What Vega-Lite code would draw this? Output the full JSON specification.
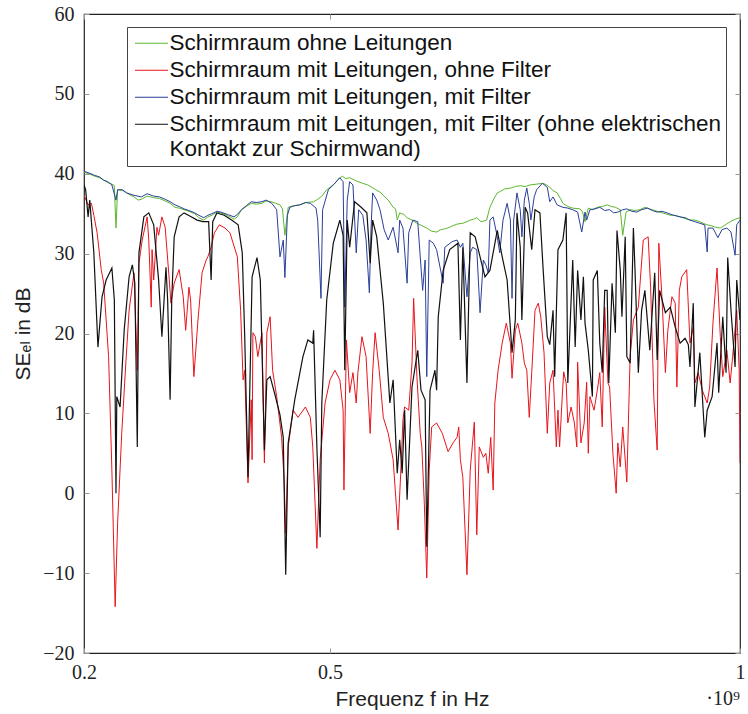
{
  "$schema": "https://vega.github.io/schema/vega-lite/v6.json",
  "autosize": {"type": "none"},
  "width": 656,
  "height": 639,
  "padding": {"left": 84, "top": 14, "right": 8, "bottom": 61},
  "background": "white",
  "config": {
    "view": {"stroke": "#222", "strokeWidth": 1.2},
    "axis": {"grid": false, "domain": false, "labelFont": "Liberation Serif", "labelFontSize": 20, "labelColor": "#222", "titleFont": "Liberation Sans, DejaVu Sans", "titleFontSize": 21, "titleFontWeight": "normal", "titleColor": "#222", "tickColor": "#999", "tickSize": -5, "tickWidth": 1}
  },
  "datasets": {
    "green": [
      {"f":0.200,"v":40.2},{"f":0.206,"v":40.0},{"f":0.213,"v":39.7},{"f":0.219,"v":39.5},{"f":0.224,"v":39.2},{"f":0.229,"v":38.9},{"f":0.234,"v":38.7},{"f":0.237,"v":38.5},{"f":0.239,"v":33.2},{"f":0.241,"v":38.0},{"f":0.247,"v":37.9},{"f":0.252,"v":37.6},{"f":0.257,"v":37.3},{"f":0.261,"v":37.1},{"f":0.266,"v":36.7},{"f":0.270,"v":36.8},{"f":0.277,"v":37.2},{"f":0.285,"v":37.0},{"f":0.292,"v":36.9},{"f":0.299,"v":36.6},{"f":0.305,"v":36.3},{"f":0.311,"v":35.8},{"f":0.316,"v":35.7},{"f":0.322,"v":35.5},{"f":0.328,"v":35.3},{"f":0.335,"v":35.0},{"f":0.340,"v":34.5},{"f":0.346,"v":34.2},{"f":0.351,"v":34.6},{"f":0.356,"v":34.8},{"f":0.362,"v":35.2},{"f":0.367,"v":35.1},{"f":0.372,"v":34.9},{"f":0.376,"v":34.7},{"f":0.380,"v":34.5},{"f":0.383,"v":34.3},{"f":0.387,"v":34.6},{"f":0.392,"v":35.5},{"f":0.398,"v":35.9},{"f":0.404,"v":36.3},{"f":0.410,"v":36.2},{"f":0.417,"v":36.3},{"f":0.422,"v":36.6},{"f":0.428,"v":36.5},{"f":0.434,"v":36.3},{"f":0.439,"v":36.1},{"f":0.442,"v":35.6},{"f":0.445,"v":32.3},{"f":0.449,"v":35.8},{"f":0.456,"v":36.0},{"f":0.463,"v":36.1},{"f":0.471,"v":36.4},{"f":0.480,"v":36.5},{"f":0.485,"v":36.8},{"f":0.490,"v":37.2},{"f":0.496,"v":38.0},{"f":0.500,"v":38.3},{"f":0.505,"v":38.7},{"f":0.510,"v":39.3},{"f":0.515,"v":39.7},{"f":0.519,"v":39.4},{"f":0.524,"v":39.5},{"f":0.532,"v":39.1},{"f":0.540,"v":38.8},{"f":0.546,"v":38.6},{"f":0.551,"v":38.3},{"f":0.556,"v":38.0},{"f":0.561,"v":37.7},{"f":0.566,"v":37.2},{"f":0.571,"v":36.7},{"f":0.577,"v":35.8},{"f":0.580,"v":35.6},{"f":0.582,"v":34.2},{"f":0.585,"v":35.1},{"f":0.590,"v":34.9},{"f":0.594,"v":34.5},{"f":0.600,"v":34.2},{"f":0.606,"v":33.8},{"f":0.612,"v":33.5},{"f":0.618,"v":33.2},{"f":0.624,"v":32.8},{"f":0.630,"v":32.7},{"f":0.635,"v":33.0},{"f":0.640,"v":33.1},{"f":0.646,"v":33.3},{"f":0.650,"v":33.5},{"f":0.655,"v":33.7},{"f":0.662,"v":33.8},{"f":0.667,"v":34.0},{"f":0.671,"v":34.2},{"f":0.675,"v":34.3},{"f":0.679,"v":34.5},{"f":0.684,"v":34.0},{"f":0.688,"v":34.1},{"f":0.691,"v":34.2},{"f":0.695,"v":35.8},{"f":0.700,"v":36.9},{"f":0.704,"v":37.6},{"f":0.708,"v":37.8},{"f":0.713,"v":38.1},{"f":0.720,"v":38.2},{"f":0.726,"v":38.4},{"f":0.732,"v":38.5},{"f":0.738,"v":38.4},{"f":0.744,"v":38.6},{"f":0.752,"v":38.7},{"f":0.760,"v":38.8},{"f":0.764,"v":38.6},{"f":0.768,"v":38.3},{"f":0.772,"v":37.9},{"f":0.777,"v":37.6},{"f":0.781,"v":36.9},{"f":0.784,"v":36.3},{"f":0.790,"v":35.9},{"f":0.796,"v":35.7},{"f":0.805,"v":35.6},{"f":0.808,"v":35.2},{"f":0.811,"v":34.0},{"f":0.815,"v":35.7},{"f":0.820,"v":35.5},{"f":0.826,"v":35.8},{"f":0.832,"v":35.9},{"f":0.838,"v":36.1},{"f":0.843,"v":35.9},{"f":0.848,"v":35.8},{"f":0.854,"v":35.5},{"f":0.857,"v":32.3},{"f":0.861,"v":35.2},{"f":0.866,"v":35.5},{"f":0.872,"v":35.4},{"f":0.878,"v":35.5},{"f":0.884,"v":35.8},{"f":0.890,"v":35.6},{"f":0.896,"v":35.4},{"f":0.902,"v":35.2},{"f":0.909,"v":35.0},{"f":0.915,"v":34.8},{"f":0.921,"v":34.8},{"f":0.927,"v":34.6},{"f":0.933,"v":34.4},{"f":0.939,"v":34.2},{"f":0.945,"v":34.2},{"f":0.951,"v":34.0},{"f":0.955,"v":33.8},{"f":0.960,"v":33.6},{"f":0.965,"v":33.5},{"f":0.970,"v":33.3},{"f":0.976,"v":33.2},{"f":0.982,"v":33.6},{"f":0.988,"v":34.0},{"f":0.994,"v":34.3},{"f":1.0,"v":34.5}
    ],
    "red": [
      {"f":0.200,"v":37.3},{"f":0.205,"v":36.1},{"f":0.209,"v":36.3},{"f":0.212,"v":34.8},{"f":0.216,"v":32.6},{"f":0.221,"v":28.0},{"f":0.224,"v":26.3},{"f":0.230,"v":17.1},{"f":0.234,"v":2.9},{"f":0.238,"v":-14.2},{"f":0.241,"v":-3.7},{"f":0.246,"v":7.5},{"f":0.251,"v":16.3},{"f":0.255,"v":22.9},{"f":0.261,"v":27.6},{"f":0.265,"v":15.4},{"f":0.267,"v":28.8},{"f":0.271,"v":31.7},{"f":0.277,"v":34.6},{"f":0.279,"v":31.7},{"f":0.282,"v":23.3},{"f":0.283,"v":30.5},{"f":0.285,"v":26.7},{"f":0.289,"v":33.3},{"f":0.291,"v":32.3},{"f":0.295,"v":34.6},{"f":0.299,"v":33.3},{"f":0.304,"v":26.7},{"f":0.306,"v":23.8},{"f":0.310,"v":26.3},{"f":0.316,"v":28.0},{"f":0.321,"v":24.6},{"f":0.324,"v":20.4},{"f":0.328,"v":25.8},{"f":0.330,"v":24.2},{"f":0.334,"v":14.6},{"f":0.339,"v":21.7},{"f":0.344,"v":27.6},{"f":0.349,"v":29.2},{"f":0.351,"v":29.6},{"f":0.355,"v":30.8},{"f":0.359,"v":32.6},{"f":0.365,"v":33.6},{"f":0.372,"v":33.2},{"f":0.378,"v":32.6},{"f":0.387,"v":29.6},{"f":0.391,"v":22.9},{"f":0.394,"v":14.2},{"f":0.396,"v":15.4},{"f":0.400,"v":1.3},{"f":0.404,"v":11.7},{"f":0.405,"v":4.2},{"f":0.406,"v":20.1},{"f":0.409,"v":19.6},{"f":0.412,"v":17.1},{"f":0.417,"v":20.1},{"f":0.420,"v":3.8},{"f":0.423,"v":20.1},{"f":0.427,"v":22.1},{"f":0.430,"v":15.4},{"f":0.435,"v":12.1},{"f":0.441,"v":7.0},{"f":0.444,"v":1.7},{"f":0.446,"v":-5.0},{"f":0.449,"v":5.8},{"f":0.455,"v":10.4},{"f":0.461,"v":9.5},{"f":0.470,"v":10.8},{"f":0.476,"v":9.5},{"f":0.479,"v":5.8},{"f":0.484,"v":-6.9},{"f":0.488,"v":4.2},{"f":0.494,"v":11.3},{"f":0.500,"v":14.2},{"f":0.506,"v":15.4},{"f":0.512,"v":14.2},{"f":0.516,"v":10.4},{"f":0.517,"v":0.4},{"f":0.520,"v":19.2},{"f":0.524,"v":12.6},{"f":0.528,"v":15.1},{"f":0.532,"v":11.3},{"f":0.534,"v":15.1},{"f":0.539,"v":19.6},{"f":0.544,"v":17.1},{"f":0.549,"v":7.5},{"f":0.552,"v":15.1},{"f":0.555,"v":20.1},{"f":0.560,"v":15.4},{"f":0.565,"v":9.5},{"f":0.571,"v":7.5},{"f":0.577,"v":4.2},{"f":0.583,"v":-4.6},{"f":0.587,"v":4.2},{"f":0.589,"v":9.2},{"f":0.591,"v":10.8},{"f":0.596,"v":10.4},{"f":0.600,"v":16.3},{"f":0.602,"v":24.4},{"f":0.606,"v":14.6},{"f":0.610,"v":7.5},{"f":0.612,"v":5.8},{"f":0.615,"v":-1.2},{"f":0.618,"v":-10.6},{"f":0.621,"v":2.9},{"f":0.624,"v":8.3},{"f":0.630,"v":8.8},{"f":0.637,"v":7.5},{"f":0.644,"v":5.2},{"f":0.650,"v":6.3},{"f":0.655,"v":7.0},{"f":0.657,"v":8.3},{"f":0.659,"v":4.2},{"f":0.662,"v":2.0},{"f":0.667,"v":-10.2},{"f":0.671,"v":2.9},{"f":0.676,"v":8.9},{"f":0.679,"v":-5.2},{"f":0.682,"v":5.8},{"f":0.687,"v":4.5},{"f":0.690,"v":5.0},{"f":0.693,"v":2.5},{"f":0.696,"v":7.0},{"f":0.699,"v":0.4},{"f":0.701,"v":11.3},{"f":0.705,"v":15.4},{"f":0.710,"v":18.8},{"f":0.715,"v":21.3},{"f":0.720,"v":18.8},{"f":0.722,"v":14.4},{"f":0.726,"v":20.4},{"f":0.729,"v":21.3},{"f":0.734,"v":18.8},{"f":0.737,"v":16.3},{"f":0.740,"v":15.4},{"f":0.743,"v":9.5},{"f":0.746,"v":15.1},{"f":0.750,"v":22.9},{"f":0.754,"v":23.8},{"f":0.757,"v":22.1},{"f":0.761,"v":17.6},{"f":0.765,"v":7.5},{"f":0.768,"v":13.8},{"f":0.772,"v":15.4},{"f":0.776,"v":5.8},{"f":0.778,"v":10.4},{"f":0.780,"v":5.8},{"f":0.783,"v":11.7},{"f":0.785,"v":15.2},{"f":0.788,"v":13.8},{"f":0.790,"v":8.8},{"f":0.794,"v":10.8},{"f":0.798,"v":8.8},{"f":0.801,"v":5.8},{"f":0.802,"v":16.4},{"f":0.806,"v":6.3},{"f":0.810,"v":8.8},{"f":0.813,"v":13.9},{"f":0.815,"v":5.0},{"f":0.817,"v":12.1},{"f":0.822,"v":10.4},{"f":0.826,"v":12.9},{"f":0.829,"v":15.1},{"f":0.832,"v":8.3},{"f":0.835,"v":23.3},{"f":0.839,"v":13.8},{"f":0.841,"v":13.3},{"f":0.845,"v":5.0},{"f":0.849,"v":0.0},{"f":0.851,"v":6.3},{"f":0.854,"v":3.3},{"f":0.857,"v":8.3},{"f":0.862,"v":1.4},{"f":0.866,"v":17.1},{"f":0.870,"v":21.7},{"f":0.876,"v":23.3},{"f":0.882,"v":31.7},{"f":0.888,"v":32.1},{"f":0.891,"v":25.8},{"f":0.895,"v":11.7},{"f":0.899,"v":5.4},{"f":0.901,"v":31.3},{"f":0.905,"v":24.2},{"f":0.909,"v":15.1},{"f":0.912,"v":20.4},{"f":0.917,"v":24.6},{"f":0.921,"v":23.8},{"f":0.923,"v":13.3},{"f":0.926,"v":25.4},{"f":0.929,"v":27.1},{"f":0.935,"v":28.0},{"f":0.939,"v":18.8},{"f":0.943,"v":20.8},{"f":0.945,"v":13.8},{"f":0.949,"v":15.1},{"f":0.954,"v":12.9},{"f":0.960,"v":11.3},{"f":0.963,"v":13.3},{"f":0.967,"v":21.3},{"f":0.972,"v":28.2},{"f":0.976,"v":19.6},{"f":0.979,"v":14.6},{"f":0.984,"v":17.9},{"f":0.988,"v":13.8},{"f":0.991,"v":17.1},{"f":0.996,"v":22.9},{"f":0.999,"v":15.4},{"f":1.0,"v":3.8}
    ],
    "blue": [
      {"f":0.200,"v":40.3},{"f":0.206,"v":40.1},{"f":0.213,"v":39.8},{"f":0.219,"v":39.6},{"f":0.224,"v":39.2},{"f":0.229,"v":39.0},{"f":0.234,"v":38.6},{"f":0.239,"v":36.7},{"f":0.241,"v":38.0},{"f":0.247,"v":38.0},{"f":0.252,"v":37.6},{"f":0.261,"v":37.3},{"f":0.270,"v":37.1},{"f":0.277,"v":37.5},{"f":0.285,"v":37.2},{"f":0.292,"v":37.1},{"f":0.299,"v":36.8},{"f":0.305,"v":36.5},{"f":0.311,"v":36.1},{"f":0.316,"v":35.9},{"f":0.322,"v":35.6},{"f":0.328,"v":35.4},{"f":0.335,"v":35.1},{"f":0.340,"v":34.8},{"f":0.346,"v":34.5},{"f":0.351,"v":34.8},{"f":0.356,"v":35.0},{"f":0.362,"v":35.3},{"f":0.367,"v":35.2},{"f":0.375,"v":34.9},{"f":0.383,"v":34.6},{"f":0.387,"v":34.9},{"f":0.392,"v":35.5},{"f":0.398,"v":36.0},{"f":0.404,"v":36.5},{"f":0.410,"v":36.4},{"f":0.417,"v":36.5},{"f":0.422,"v":36.7},{"f":0.429,"v":36.3},{"f":0.435,"v":35.5},{"f":0.439,"v":29.6},{"f":0.443,"v":31.7},{"f":0.445,"v":27.0},{"f":0.448,"v":34.8},{"f":0.451,"v":35.8},{"f":0.457,"v":36.0},{"f":0.463,"v":36.1},{"f":0.470,"v":36.4},{"f":0.476,"v":36.3},{"f":0.483,"v":35.7},{"f":0.485,"v":34.2},{"f":0.489,"v":24.4},{"f":0.491,"v":35.5},{"f":0.498,"v":38.0},{"f":0.505,"v":38.7},{"f":0.512,"v":39.5},{"f":0.516,"v":39.0},{"f":0.518,"v":23.3},{"f":0.521,"v":36.7},{"f":0.524,"v":39.0},{"f":0.528,"v":38.6},{"f":0.532,"v":30.1},{"f":0.535,"v":35.5},{"f":0.540,"v":34.8},{"f":0.544,"v":31.7},{"f":0.548,"v":25.1},{"f":0.550,"v":33.0},{"f":0.552,"v":37.6},{"f":0.557,"v":36.7},{"f":0.561,"v":35.5},{"f":0.566,"v":33.0},{"f":0.571,"v":31.7},{"f":0.577,"v":33.3},{"f":0.580,"v":31.7},{"f":0.583,"v":30.1},{"f":0.585,"v":34.2},{"f":0.589,"v":33.2},{"f":0.594,"v":26.3},{"f":0.596,"v":32.6},{"f":0.601,"v":34.2},{"f":0.607,"v":34.0},{"f":0.613,"v":25.4},{"f":0.616,"v":29.2},{"f":0.618,"v":14.6},{"f":0.621,"v":31.7},{"f":0.626,"v":31.3},{"f":0.630,"v":30.5},{"f":0.638,"v":26.3},{"f":0.640,"v":30.8},{"f":0.649,"v":31.5},{"f":0.655,"v":31.7},{"f":0.659,"v":30.8},{"f":0.662,"v":31.3},{"f":0.667,"v":24.6},{"f":0.671,"v":30.1},{"f":0.674,"v":30.8},{"f":0.679,"v":30.5},{"f":0.683,"v":22.6},{"f":0.687,"v":29.2},{"f":0.690,"v":28.6},{"f":0.693,"v":27.6},{"f":0.695,"v":34.2},{"f":0.699,"v":34.6},{"f":0.704,"v":32.1},{"f":0.707,"v":30.1},{"f":0.711,"v":34.2},{"f":0.716,"v":36.3},{"f":0.720,"v":34.2},{"f":0.722,"v":24.4},{"f":0.724,"v":34.2},{"f":0.728,"v":37.6},{"f":0.732,"v":35.5},{"f":0.734,"v":32.1},{"f":0.737,"v":36.7},{"f":0.740,"v":38.2},{"f":0.743,"v":36.3},{"f":0.745,"v":34.2},{"f":0.749,"v":37.1},{"f":0.752,"v":38.0},{"f":0.759,"v":38.8},{"f":0.765,"v":38.3},{"f":0.768,"v":36.5},{"f":0.772,"v":37.1},{"f":0.777,"v":36.1},{"f":0.784,"v":35.8},{"f":0.790,"v":35.7},{"f":0.796,"v":35.5},{"f":0.802,"v":35.2},{"f":0.807,"v":32.7},{"f":0.811,"v":35.2},{"f":0.813,"v":34.2},{"f":0.817,"v":35.5},{"f":0.823,"v":35.6},{"f":0.829,"v":35.8},{"f":0.835,"v":35.4},{"f":0.841,"v":35.5},{"f":0.846,"v":35.1},{"f":0.851,"v":35.2},{"f":0.857,"v":35.5},{"f":0.862,"v":35.6},{"f":0.868,"v":35.3},{"f":0.874,"v":35.2},{"f":0.880,"v":35.5},{"f":0.887,"v":35.7},{"f":0.893,"v":35.4},{"f":0.899,"v":35.2},{"f":0.905,"v":35.3},{"f":0.911,"v":35.1},{"f":0.919,"v":34.8},{"f":0.927,"v":34.6},{"f":0.933,"v":34.5},{"f":0.939,"v":34.2},{"f":0.945,"v":34.0},{"f":0.951,"v":33.8},{"f":0.957,"v":33.6},{"f":0.960,"v":30.2},{"f":0.961,"v":33.2},{"f":0.967,"v":33.2},{"f":0.973,"v":32.0},{"f":0.978,"v":33.0},{"f":0.984,"v":33.2},{"f":0.989,"v":32.7},{"f":0.994,"v":29.8},{"f":0.996,"v":33.6},{"f":1.0,"v":34.2}
    ],
    "black": [
      {"f":0.200,"v":38.6},{"f":0.202,"v":38.0},{"f":0.205,"v":34.6},{"f":0.207,"v":36.7},{"f":0.212,"v":30.1},{"f":0.217,"v":18.3},{"f":0.222,"v":24.6},{"f":0.227,"v":26.7},{"f":0.234,"v":28.2},{"f":0.237,"v":24.2},{"f":0.239,"v":0.0},{"f":0.240,"v":12.1},{"f":0.244,"v":10.8},{"f":0.249,"v":20.4},{"f":0.255,"v":27.1},{"f":0.259,"v":28.6},{"f":0.262,"v":26.3},{"f":0.265,"v":5.8},{"f":0.267,"v":30.1},{"f":0.273,"v":34.6},{"f":0.279,"v":35.1},{"f":0.285,"v":33.6},{"f":0.291,"v":26.7},{"f":0.295,"v":19.6},{"f":0.300,"v":28.3},{"f":0.302,"v":24.2},{"f":0.305,"v":11.7},{"f":0.307,"v":24.2},{"f":0.310,"v":32.1},{"f":0.316,"v":34.6},{"f":0.322,"v":35.1},{"f":0.329,"v":34.7},{"f":0.338,"v":34.2},{"f":0.345,"v":34.0},{"f":0.352,"v":34.0},{"f":0.355,"v":26.7},{"f":0.357,"v":34.0},{"f":0.362,"v":35.1},{"f":0.371,"v":34.8},{"f":0.380,"v":34.2},{"f":0.388,"v":33.6},{"f":0.393,"v":30.1},{"f":0.396,"v":19.6},{"f":0.400,"v":2.0},{"f":0.405,"v":27.1},{"f":0.411,"v":29.5},{"f":0.415,"v":26.7},{"f":0.420,"v":5.4},{"f":0.423,"v":14.2},{"f":0.427,"v":14.6},{"f":0.433,"v":12.3},{"f":0.439,"v":9.8},{"f":0.443,"v":7.0},{"f":0.446,"v":-10.2},{"f":0.449,"v":6.3},{"f":0.457,"v":11.7},{"f":0.467,"v":17.1},{"f":0.473,"v":19.2},{"f":0.479,"v":18.8},{"f":0.480,"v":20.4},{"f":0.484,"v":5.8},{"f":0.488,"v":-5.5},{"f":0.490,"v":11.3},{"f":0.496,"v":24.2},{"f":0.504,"v":31.3},{"f":0.512,"v":34.2},{"f":0.516,"v":32.3},{"f":0.518,"v":15.4},{"f":0.521,"v":34.2},{"f":0.524,"v":30.8},{"f":0.530,"v":36.5},{"f":0.538,"v":35.8},{"f":0.545,"v":35.1},{"f":0.549,"v":28.8},{"f":0.552,"v":34.2},{"f":0.557,"v":32.1},{"f":0.565,"v":23.8},{"f":0.573,"v":11.3},{"f":0.577,"v":14.2},{"f":0.582,"v":2.5},{"f":0.585,"v":6.7},{"f":0.588,"v":2.5},{"f":0.591,"v":10.4},{"f":0.594,"v":-0.8},{"f":0.600,"v":13.3},{"f":0.607,"v":17.9},{"f":0.611,"v":12.9},{"f":0.616,"v":11.7},{"f":0.618,"v":-6.7},{"f":0.622,"v":12.9},{"f":0.628,"v":15.4},{"f":0.630,"v":12.9},{"f":0.632,"v":22.1},{"f":0.638,"v":27.9},{"f":0.646,"v":30.5},{"f":0.656,"v":31.3},{"f":0.659,"v":19.2},{"f":0.662,"v":30.8},{"f":0.667,"v":13.8},{"f":0.671,"v":32.6},{"f":0.677,"v":32.1},{"f":0.683,"v":29.6},{"f":0.689,"v":27.1},{"f":0.695,"v":27.9},{"f":0.704,"v":32.9},{"f":0.710,"v":29.6},{"f":0.716,"v":26.7},{"f":0.722,"v":17.6},{"f":0.726,"v":21.7},{"f":0.728,"v":35.1},{"f":0.732,"v":30.8},{"f":0.734,"v":21.7},{"f":0.738,"v":35.8},{"f":0.741,"v":35.1},{"f":0.746,"v":30.5},{"f":0.750,"v":35.5},{"f":0.756,"v":35.1},{"f":0.760,"v":27.9},{"f":0.765,"v":19.6},{"f":0.768,"v":18.6},{"f":0.772,"v":22.9},{"f":0.774,"v":14.6},{"f":0.778,"v":30.5},{"f":0.784,"v":31.7},{"f":0.788,"v":35.1},{"f":0.790,"v":13.8},{"f":0.796,"v":29.2},{"f":0.799,"v":18.3},{"f":0.802,"v":27.9},{"f":0.806,"v":21.7},{"f":0.809,"v":27.1},{"f":0.811,"v":21.3},{"f":0.815,"v":17.9},{"f":0.820,"v":12.1},{"f":0.821,"v":26.7},{"f":0.826,"v":27.9},{"f":0.829,"v":18.8},{"f":0.832,"v":15.1},{"f":0.835,"v":25.4},{"f":0.838,"v":25.4},{"f":0.840,"v":13.8},{"f":0.844,"v":26.3},{"f":0.848,"v":20.1},{"f":0.850,"v":32.9},{"f":0.854,"v":27.9},{"f":0.856,"v":22.1},{"f":0.860,"v":32.1},{"f":0.862,"v":17.1},{"f":0.866,"v":16.3},{"f":0.870,"v":33.2},{"f":0.872,"v":27.9},{"f":0.876,"v":15.1},{"f":0.880,"v":22.9},{"f":0.884,"v":25.4},{"f":0.890,"v":17.9},{"f":0.896,"v":27.6},{"f":0.899,"v":16.7},{"f":0.902,"v":25.4},{"f":0.909,"v":22.6},{"f":0.915,"v":23.3},{"f":0.921,"v":20.8},{"f":0.927,"v":18.8},{"f":0.933,"v":19.4},{"f":0.937,"v":18.6},{"f":0.939,"v":15.8},{"f":0.943,"v":23.8},{"f":0.945,"v":10.8},{"f":0.951,"v":17.6},{"f":0.957,"v":7.0},{"f":0.960,"v":10.4},{"f":0.966,"v":12.1},{"f":0.972,"v":18.8},{"f":0.974,"v":12.6},{"f":0.979,"v":22.1},{"f":0.983,"v":15.1},{"f":0.985,"v":29.5},{"f":0.989,"v":22.9},{"f":0.994,"v":15.8},{"f":0.996,"v":26.7},{"f":1.0,"v":21.7}
    ]
  },
  "resolve": {"axis": {"x": "independent", "y": "independent"}},
  "layer": [
    {
      "data": {"name": "green"},
      "mark": {"type": "line", "strokeWidth": 1, "clip": true},
      "encoding": {
        "x": {"field": "f", "type": "quantitative", "scale": {"domain": [0.2, 1], "nice": false, "zero": false},
              "axis": {"values": [0.2, 0.5, 1], "format": "~g", "title": "Frequenz f in Hz", "labelPadding": 14, "titlePadding": 6, "labelFlush": false}},
        "y": {"field": "v", "type": "quantitative", "scale": {"domain": [-20, 60], "nice": false, "zero": false},
              "axis": {"values": [-20, -10, 0, 10, 20, 30, 40, 50, 60], "title": "SEₑₗ in dB", "labelPadding": 15, "titlePadding": 9, "labelFlush": false}},
        "color": {"datum": "Schirmraum ohne Leitungen", "type": "nominal",
                  "scale": {"domain": ["Schirmraum ohne Leitungen", "Schirmraum mit Leitungen, ohne Filter", "Schirmraum mit Leitungen, mit Filter", "Schirmraum mit Leitungen, mit Filter (ohne elektrischen Kontakt zur Schirmwand)"],
                            "range": ["#5cb82e", "#e8141c", "#2b3f99", "#111111"]},
                  "legend": {"title": null, "orient": "none", "legendX": 43, "legendY": 13,
                             "strokeColor": "#444", "fillColor": "white", "padding": 5,
                             "symbolType": "M-1,0H3", "symbolSize": 272, "symbolStrokeWidth": 1, "symbolFillColor": "transparent",
                             "labelFont": "Liberation Sans", "labelFontSize": 22.5, "labelColor": "#111", "labelLimit": 0, "labelOffset": 15,
                             "rowPadding": 4, "labelBaseline": "middle",
                             "labelExpr": "datum.label == 'Schirmraum mit Leitungen, mit Filter (ohne elektrischen Kontakt zur Schirmwand)' ? ['Schirmraum mit Leitungen, mit Filter (ohne elektrischen', 'Kontakt zur Schirmwand)'] : datum.label"}}
      }
    },
    {
      "data": {"name": "red"},
      "mark": {"type": "line", "strokeWidth": 1, "clip": true},
      "encoding": {
        "x": {"field": "f", "type": "quantitative", "axis": null},
        "y": {"field": "v", "type": "quantitative", "axis": null},
        "color": {"datum": "Schirmraum mit Leitungen, ohne Filter", "type": "nominal"}
      }
    },
    {
      "data": {"name": "blue"},
      "mark": {"type": "line", "strokeWidth": 1, "clip": true},
      "encoding": {
        "x": {"field": "f", "type": "quantitative", "axis": null},
        "y": {"field": "v", "type": "quantitative", "axis": null},
        "color": {"datum": "Schirmraum mit Leitungen, mit Filter", "type": "nominal"}
      }
    },
    {
      "data": {"name": "black"},
      "mark": {"type": "line", "strokeWidth": 1.2, "clip": true},
      "encoding": {
        "x": {"field": "f", "type": "quantitative", "axis": null},
        "y": {"field": "v", "type": "quantitative", "axis": null},
        "color": {"datum": "Schirmraum mit Leitungen, mit Filter (ohne elektrischen Kontakt zur Schirmwand)", "type": "nominal"}
      }
    },
    {
      "data": {"values": [{"label": "·10⁹"}]},
      "mark": {"type": "text", "align": "right", "baseline": "alphabetic", "dy": 52, "font": "Liberation Serif", "fontSize": 20, "color": "#222"},
      "encoding": {
        "x": {"datum": 1, "type": "quantitative", "axis": {"orient": "top", "values": [0.2, 0.5, 1], "labels": false, "title": null}},
        "y": {"datum": -20, "type": "quantitative", "axis": {"orient": "right", "values": [-20, -10, 0, 10, 20, 30, 40, 50, 60], "labels": false, "title": null}},
        "text": {"field": "label"}
      }
    }
  ]
}
